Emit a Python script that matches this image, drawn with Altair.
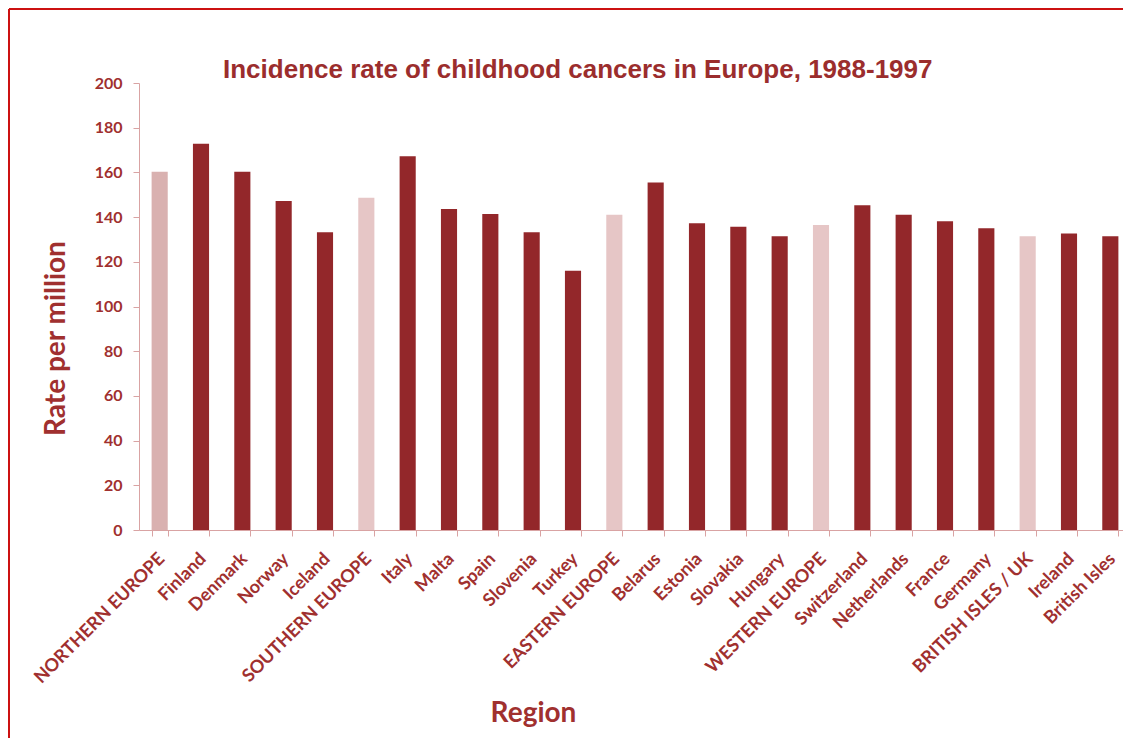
import altair as alt
import pandas as pd

# Incidence of childhood cancers, rate per million, 1988-1997
regions = [
    "NORTHERN EUROPE", "Finland", "Denmark", "Norway", "Iceland",
    "SOUTHERN EUROPE", "Italy", "Malta", "Spain", "Slovenia", "Turkey",
    "EASTERN EUROPE", "Belarus", "Estonia", "Slovakia", "Hungary",
    "WESTERN EUROPE", "Switzerland", "Netherlands", "France", "Germany",
    "BRITISH ISLES / UK", "Ireland", "British Isles",
]
rates = [
    160.3, 172.8, 160.3, 147.2, 133.2,
    148.7, 167.2, 143.6, 141.4, 133.2, 116.0,
    141.0, 155.5, 137.2, 135.7, 131.4,
    136.5, 145.3, 141.0, 138.1, 135.0,
    131.4, 132.7, 131.4,
]
# aggregate rows (whole regions) versus single countries
kinds = [
    "region", "country", "country", "country", "country",
    "region", "country", "country", "country", "country", "country",
    "region", "country", "country", "country", "country",
    "region", "country", "country", "country", "country",
    "region", "country", "country",
]
y_ticks = list(range(0, 201, 20))
title_text = "Incidence rate of childhood cancers in Europe, 1988-1997"

df = pd.DataFrame({"region": regions, "rate": rates, "kind": kinds})

TEXT = "#a0302f"
DARK = "#93272a"
AXIS = "#d9a3a3"
FONT = "Lato"

bars = alt.Chart(df).mark_bar().encode(
    x=alt.X(
        "region:N",
        sort=regions,
        scale=alt.Scale(range=[0, 992], paddingInner=0.61, paddingOuter=0.305),
        axis=alt.Axis(
            title="Region",
            titleFont=FONT,
            titleFontSize=28,
            titleFontWeight="bold",
            titleColor=TEXT,
            titleX=394,
            titleY=191,
            titleBaseline="alphabetic",
            titleAnchor="start",
            titleAlign="center",
            labelAngle=-45,
            labelAlign="right",
            labelBaseline="middle",
            labelFont=FONT,
            labelFontSize=18,
            labelFontWeight="bold",
            labelColor=TEXT,
            labelPadding=20,
            labelOffset=2,
            labelLimit=400,
            labelOverlap=False,
            tickBand="extent",
            tickSize=6,
            tickColor=AXIS,
            domainColor=AXIS,
        ),
    ),
    y=alt.Y(
        "rate:Q",
        scale=alt.Scale(domain=[0, 200], nice=False),
        axis=alt.Axis(
            title="Rate per million",
            values=y_ticks,
            titleFont=FONT,
            titleFontSize=28,
            titleFontWeight="bold",
            titleColor=TEXT,
            titleAngle=-90,
            titleX=-75,
            titleY=255,
            titleAlign="center",
            titleBaseline="alphabetic",
            labelFont=FONT,
            labelFontSize=16,
            labelFontWeight="bold",
            labelColor=TEXT,
            labelPadding=11,
            tickSize=6,
            tickColor=AXIS,
            domainColor=AXIS,
            grid=False,
        ),
    ),
    color=alt.condition(
        "datum.region == 'NORTHERN EUROPE'",
        alt.value("#d9b1b0"),
        alt.Color(
            "kind:N",
            scale=alt.Scale(domain=["country", "region"], range=[DARK, "#e6c6c6"]),
            legend=None,
        ),
    ),
)

single = alt.Data(values=[{"label": title_text}])

# chart title, set above the plot area
title = alt.Chart(single).mark_text(
    font="Liberation Sans",
    fontSize=26,
    fontWeight="bold",
    color="#9b2d2d",
    align="left",
    baseline="alphabetic",
).encode(x=alt.value(84), y=alt.value(-5), text="label:N")

# red outline around the chart area
frame_left = alt.Chart(single).mark_rule(color="#cc1111", strokeWidth=2).encode(
    x=alt.value(-130), y=alt.value(-74), y2=alt.value(700)
)
frame_top = alt.Chart(single).mark_rule(color="#cc1111", strokeWidth=2).encode(
    x=alt.value(-130), x2=alt.value(1000), y=alt.value(-74)
)

chart = alt.layer(bars, title, frame_left, frame_top).properties(
    width=984,
    height=447,
    autosize=alt.AutoSizeParams(type="none"),
    padding={"left": 139, "top": 83, "right": 0, "bottom": 208},
    background="white",
).configure_view(stroke=None)

chart.save("out.html", embed_options={"renderer": "svg", "actions": False})
